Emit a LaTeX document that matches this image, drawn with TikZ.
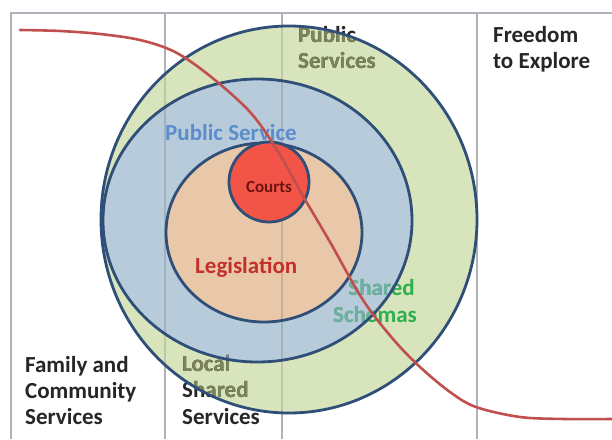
\documentclass[tikz,border=0pt]{standalone}
\usepackage{fontspec}
\setmainfont{Carlito}
\definecolor{ringgreen}{HTML}{D8E4BC}
\definecolor{ringblue}{HTML}{B8CBDA}
\definecolor{ringpeach}{HTML}{E8C8A8}
\definecolor{courtred}{HTML}{F25547}
\definecolor{ringline}{HTML}{2F4E78}
\definecolor{curvered}{HTML}{C0504D}
\definecolor{gridgray}{HTML}{AEB3B9}
\definecolor{inkblack}{HTML}{262626}
\definecolor{olivetext}{HTML}{7D8459}
\definecolor{olivebluetext}{HTML}{6F8090}
\definecolor{psblue}{HTML}{5B8DCC}
\definecolor{legred}{HTML}{C3302C}
\definecolor{courttext}{HTML}{6E1212}
\definecolor{schemagreen}{HTML}{2EAF50}
\definecolor{schemateal}{HTML}{6FAEA3}
\tikzset{
  lbl/.style={font=\fontsize{23}{26}\selectfont\bfseries, inner sep=0pt, anchor=base west},
  lblr/.style={lbl, anchor=base east},
  ring/.style={draw=ringline, line width=2.8pt},
  gridline/.style={draw=gridgray, line width=1.2pt},
}
\newcommand{\PSlabel}[2]{%
  \node[lbl, text=#1] (psa#2) at (298,42) {Public};
  \node[lbl, text=#1] (psb#2) at (298,68) {Services};}
\newcommand{\LSSlabel}[2]{%
  \node[lbl, text=#1] (lsa#2) at (182,371) {Local};
  \node[lbl, text=#1] (lsb#2) at (182,397.5) {Shared};
  \node[lbl, text=#1] (lsc#2) at (182,424) {Services};}
\newcommand{\SSlabel}[2]{%
  \node[lblr, text=#1] (ssa#2) at (415,295) {Shared};
  \node[lblr, text=#1] (ssb#2) at (417,322) {Schemas};}
\begin{document}
\begin{tikzpicture}[x=1pt, y=-1pt]
\useasboundingbox (0,0) rectangle (612,439);
\fill[white] (0,0) rectangle (612,439);
% table grid
\draw[gridline] (11,439) -- (11,13) -- (612,13);
\draw[gridline] (165,13) -- (165,439);
\draw[gridline] (282,13) -- (282,439);
\draw[gridline] (477,13) -- (477,439);
% fills
\fill[ringgreen] (289,219.5) ellipse [x radius=188pt, y radius=193.5pt];
\fill[ringblue] (257.5,220.5) ellipse [x radius=154.5pt, y radius=141.5pt];
\fill[ringpeach] (264,232.5) ellipse [x radius=98pt, y radius=89.5pt];
\begin{scope}
  \clip (289,219.5) ellipse [x radius=188pt, y radius=193.5pt];
  \draw[black, opacity=0.12, line width=1.2pt] (165,13) -- (165,439) (282,13) -- (282,439);
\end{scope}
% labels lying under the rings
\PSlabel{inkblack}{a}
\LSSlabel{inkblack}{a}
\SSlabel{schemagreen}{a}
\begin{scope}
  \clip (289,219.5) ellipse [x radius=188pt, y radius=193.5pt];
  \PSlabel{olivetext}{b}
  \LSSlabel{olivetext}{b}
\end{scope}
\begin{scope}
  \clip (257.5,220.5) ellipse [x radius=154.5pt, y radius=141.5pt];
  \LSSlabel{olivebluetext}{c}
  \SSlabel{schemateal}{c}
\end{scope}
\node[lbl, text=inkblack] (fam1) at (25,372) {Family and};
\node[lbl, text=inkblack] (fam2) at (25,398) {Community};
\node[lbl, text=inkblack] (fam3) at (25,424) {Services};
\node[lbl, text=inkblack] (free1) at (493,42) {Freedom};
\node[lbl, text=inkblack] (free2) at (493,68) {to Explore};
% ring borders
\draw[ring] (289,219.5) ellipse [x radius=188pt, y radius=193.5pt];
\draw[ring] (257.5,220.5) ellipse [x radius=154.5pt, y radius=141.5pt];
\draw[ring] (264,232.5) ellipse [x radius=98pt, y radius=89.5pt];
\draw[ring, fill=courtred] (269,182) circle [radius=40pt];
% labels on top
\node[lbl, text=psblue] (psvc) at (165,140) {Public Service};
\node[lbl, text=legred] (leg) at (195,273) {Legislation};
\node[font=\fontsize{17}{20}\selectfont\bfseries, text=courttext, inner sep=0pt, anchor=base] (courts) at (269,192) {Courts};
% red curve
\draw[curvered, line width=2.6pt, line cap=round] plot[smooth, tension=0.55] coordinates {
  (20,30) (60,31) (100,34) (140,40) (175,52) (210,76) (250,112) (277,150)
  (303,196) (330,242) (363,300) (393,339) (420,367) (450,392) (476,407)
  (520,417) (565,419) (612,419)};
\end{tikzpicture}
\end{document}
